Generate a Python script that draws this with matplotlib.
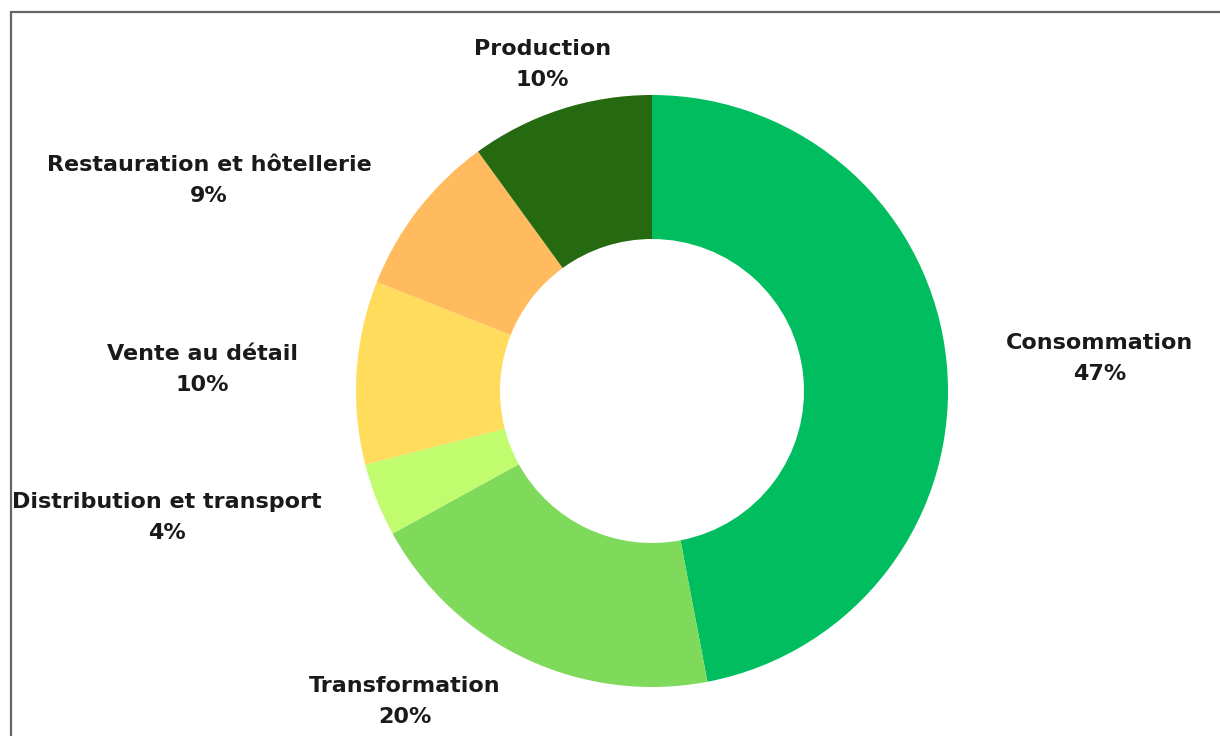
import numpy as np
import matplotlib
matplotlib.use("Agg")
import matplotlib.pyplot as plt

categories = ["Consommation", "Transformation", "Distribution et transport",
              "Vente au détail", "Restauration et hôtellerie", "Production"]
values = [47, 20, 4, 10, 9, 10]
colors = ["#00BE5F", "#7FD95A", "#C0FC6E", "#FFDC5C", "#FFBB5D", "#256A10"]

fig = plt.figure(figsize=(12.2, 7.36), dpi=100)
ax = fig.add_axes([0, 0, 1, 1])

# frame of the original chart area (cropped on the right and bottom)
ax.plot([10.5, 10.5, 1230], [-10, 724.5, 724.5], color="#666666", lw=1.6,
        solid_joinstyle="miter")

R = 296
cx, cy = 652, 345
wedges, _ = ax.pie(values, colors=colors, startangle=90, counterclock=False,
                   radius=R, center=(cx, cy), frame=True,
                   wedgeprops=dict(width=144, linewidth=0))
ax.set_xlim(0, 1220)
ax.set_ylim(0, 736)
ax.set_aspect("equal")
ax.axis("off")

total = sum(values)
for w, name, v in zip(wedges, categories, values):
    mid = np.deg2rad((w.theta1 + w.theta2) / 2)
    x = cx + 1.2 * R * np.cos(mid)
    y = cy + 1.16 * R * np.sin(mid)
    c = np.cos(mid)
    ha = "left" if c > 0.35 else ("right" if c < -0.35 else "center")
    ax.text(x, y, f"{name}\n{round(v / total * 100)}%", ha=ha, va="center",
            multialignment="center", fontsize=16, color="#1a1a1a",
            family="DejaVu Sans", weight="bold", linespacing=1.7)

fig.savefig("out.png", dpi=100, facecolor="white")
